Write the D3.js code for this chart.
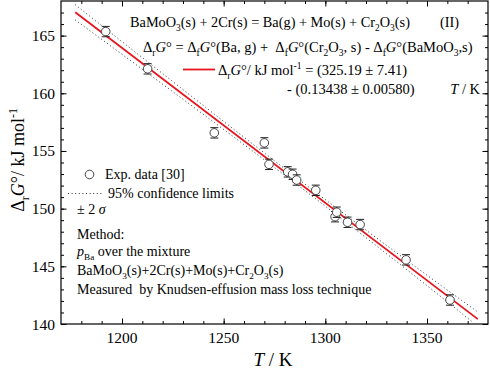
<!DOCTYPE html>
<html>
<head>
<meta charset="utf-8">
<script src="https://cdn.jsdelivr.net/npm/d3@7"></script>
<style>
  body { margin: 0; background: #fff; }
</style>
</head>
<body>
<svg id="chart" width="490" height="371"></svg>
<script>
const temps = [1192.0, 1212.6, 1245.4, 1270.0, 1272.3, 1281.5, 1283.9, 1285.9, 1295.3, 1304.8, 1305.6, 1310.9, 1317.1, 1339.7, 1361.3];
const dG = [165.35, 162.12, 156.57, 155.70, 153.84, 153.19, 152.98, 152.48, 151.59, 149.30, 149.69, 148.82, 148.62, 145.56, 142.08];
const errs = [0.45, 0.45, 0.45, 0.45, 0.45, 0.45, 0.45, 0.45, 0.45, 0.45, 0.45, 0.45, 0.45, 0.45, 0.45];

// Fitted line end points
const fitT = [1177, 1375];
const fitG = [167.02, 140.42];

// 95% confidence limits
const upperT = [1177, 1200, 1230, 1260, 1290, 1320, 1350, 1375];
const upperG = [167.68, 164.48, 160.32, 156.19, 152.12, 148.14, 144.23, 141.04];
const lowerT = [1177, 1200, 1230, 1260, 1290, 1320, 1350, 1372];
const lowerG = [166.36, 163.38, 159.48, 155.55, 151.56, 147.48, 143.33, 140.22];

const xTicks = [1200, 1250, 1300, 1350];
const yTicks = [140, 145, 150, 155, 160, 165];

const FONT = "Liberation Serif";
const svg = d3.select("#chart");
const mLeft = 61, mRight = 488, mTop = 1, mBottom = 324;

const x = d3.scaleLinear().domain([1170, 1380]).range([mLeft, mRight]);
const y = d3.scaleLinear().domain([140, 168]).range([mBottom, mTop]);

// axes: ticks inside on all four sides
const minorX = d3.range(1180, 1380, 10);
const minorY = d3.range(141, 168, 1);

function tickAxis(axisFn, scale, major, minor, pos) {
  const g = svg.append("g").attr("transform", pos);
  g.append("g").call(axisFn(scale).tickValues(minor).tickSize(-3).tickFormat(""));
  g.append("g").call(axisFn(scale).tickValues(major).tickSize(-5.5).tickFormat(""));
  g.selectAll(".domain").remove();
  g.selectAll("line").attr("stroke", "#000").attr("stroke-width", 1);
  return g;
}
tickAxis(d3.axisBottom, x, xTicks, minorX, `translate(0,${mBottom})`);
tickAxis(d3.axisTop, x, xTicks, minorX, `translate(0,${mTop})`);
tickAxis(d3.axisLeft, y, yTicks, minorY, `translate(${mLeft},0)`);
tickAxis(d3.axisRight, y, yTicks, minorY, `translate(${mRight},0)`);

svg.append("rect")
  .attr("x", mLeft).attr("y", mTop)
  .attr("width", mRight - mLeft).attr("height", mBottom - mTop)
  .attr("fill", "none").attr("stroke", "#000").attr("stroke-width", 1.2);

svg.append("g").selectAll("text").data(xTicks).join("text")
  .attr("x", d => x(d)).attr("y", 343)
  .attr("font-family", FONT)
  .attr("text-anchor", "middle").attr("font-size", 15.5)
  .text(d => d);

svg.append("g").selectAll("text").data(yTicks).join("text")
  .attr("x", 55).attr("y", d => y(d) + 5.5)
  .attr("font-family", FONT)
  .attr("text-anchor", "end").attr("font-size", 15.5)
  .text(d => d);

// rich text helper: parts = [[text, style]], style: n, i, sub, sup
function rich(sel, parts, size) {
  let shift = 0;
  sel.attr("font-family", FONT);
  parts.forEach(([t, s]) => {
    const ts = sel.append("tspan").attr("font-family", FONT).text(t);
    let target = 0;
    if (s === "sub") target = size * 0.3;
    if (s === "sup") target = -size * 0.38;
    if (target !== shift) { ts.attr("dy", target - shift); shift = target; }
    if (s === "sub" || s === "sup") ts.attr("font-size", size * 0.66);
    if (s === "i") ts.attr("font-style", "italic");
  });
  return sel;
}
function label(xp, yp, parts, size, anchor) {
  const t = svg.append("text").attr("x", xp).attr("y", yp)
    .attr("font-size", size).attr("text-anchor", anchor || "start")
    .attr("xml:space", "preserve");
  return rich(t, parts, size);
}

// confidence limits
const line = d3.line().x(d => x(d[0])).y(d => y(d[1])).curve(d3.curveNatural);
[[upperT, upperG], [lowerT, lowerG]].forEach(([ts, gs]) => {
  svg.append("path")
    .attr("d", line(ts.map((t, i) => [t, gs[i]])))
    .attr("fill", "none").attr("stroke", "#333").attr("stroke-width", 1)
    .attr("stroke-dasharray", "1,2.6");
});

// fit line
svg.append("path")
  .attr("d", d3.line().x(d => x(d[0])).y(d => y(d[1]))(fitT.map((t, i) => [t, fitG[i]])))
  .attr("stroke", "#e8141c").attr("stroke-width", 1.8).attr("fill", "none");

// error bars and points
const pts = svg.append("g").selectAll("g").data(temps.map((t, i) => ({ t, g: dG[i], e: errs[i] }))).join("g");
pts.append("line")
  .attr("x1", d => x(d.t)).attr("x2", d => x(d.t))
  .attr("y1", d => y(d.g + d.e)).attr("y2", d => y(d.g - d.e))
  .attr("stroke", "#222").attr("stroke-width", 1);
["+", "-"].forEach(s => {
  pts.append("line")
    .attr("x1", d => x(d.t) - 4).attr("x2", d => x(d.t) + 4)
    .attr("y1", d => y(s === "+" ? d.g + d.e : d.g - d.e))
    .attr("y2", d => y(s === "+" ? d.g + d.e : d.g - d.e))
    .attr("stroke", "#222").attr("stroke-width", 1);
});
pts.append("circle")
  .attr("cx", d => x(d.t)).attr("cy", d => y(d.g)).attr("r", 4.3)
  .attr("fill", "#fff").attr("stroke", "#444").attr("stroke-width", 1);

// equations at top
const fe = 14.5;
label(130, 27, [["BaMoO", "n"], ["3", "sub"], ["(s) + 2Cr(s) = Ba(g) + Mo(s) + Cr", "n"], ["2", "sub"], ["O", "n"], ["3", "sub"], ["(s)", "n"]], 14.3);
label(440, 27, [["(II)", "n"]], 14.3);
label(143, 52, [["Δ", "n"], ["r", "sub"], ["G", "i"], ["° = Δ", "n"], ["f", "sub"], ["G", "i"], ["°(Ba, g) +  Δ", "n"], ["f", "sub"], ["G", "i"], ["°(Cr", "n"], ["2", "sub"], ["O", "n"], ["3", "sub"], [", s) - Δ", "n"], ["f", "sub"], ["G", "i"], ["°(BaMoO", "n"], ["3", "sub"], [",s)", "n"]], fe);
svg.append("line").attr("x1", 183).attr("x2", 215).attr("y1", 69.5).attr("y2", 69.5)
  .attr("stroke", "#e8141c").attr("stroke-width", 1.8);
label(218, 74.5, [["Δ", "n"], ["r", "sub"], ["G", "i"], ["°/ kJ mol", "n"], ["-1", "sup"], [" = (325.19 ± 7.41)", "n"]], fe);
label(287, 93.5, [["- (0.13438 ± 0.00580)", "n"]], fe);
label(480, 93.5, [["T", "i"], [" / K", "n"]], fe, "end");

// legend on the left
const fl = 14;
svg.append("circle").attr("cx", 89.5).attr("cy", 174.5).attr("r", 4.3)
  .attr("fill", "#fff").attr("stroke", "#444").attr("stroke-width", 1);
label(105, 179, [["Exp. data [30]", "n"]], fl);
svg.append("line").attr("x1", 68).attr("x2", 104).attr("y1", 193.5).attr("y2", 193.5)
  .attr("stroke", "#333").attr("stroke-dasharray", "1,2.6");
label(108, 198, [["95% confidence limits", "n"]], fl);
label(77, 214, [["± 2 ", "n"], ["σ", "i"]], fl);
label(77, 239, [["Method:", "n"]], fl);
label(77, 256, [["p", "i"], ["Ba", "sub"], [" over the mixture", "n"]], fl);
label(77, 274.5, [["BaMoO", "n"], ["3", "sub"], ["(s)+2Cr(s)+Mo(s)+Cr", "n"], ["2", "sub"], ["O", "n"], ["3", "sub"], ["(s)", "n"]], fl);
label(77, 293.5, [["Measured  by Knudsen-effusion mass loss technique", "n"]], fl);

// axis titles
label(273, 366, [["T", "i"], [" / K", "n"]], 19, "middle");
const yt = svg.append("text").attr("transform", "translate(24,160) rotate(-90)")
  .attr("text-anchor", "middle").attr("font-size", 18).attr("xml:space", "preserve");
rich(yt, [["Δ", "n"], ["r", "sub"], ["G", "i"], ["°/ kJ mol", "n"], ["-1", "sup"]], 18);
</script>
</body>
</html>
